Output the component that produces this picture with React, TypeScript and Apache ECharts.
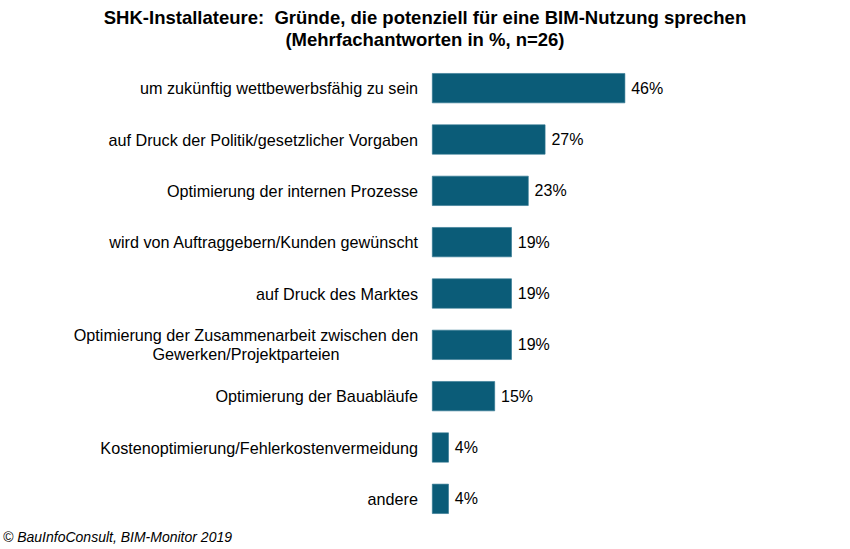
import React, { useEffect, useRef } from "react";
import * as echarts from "echarts";

const categories = [
  "um zukünftig wettbewerbsfähig zu sein",
  "auf Druck der Politik/gesetzlicher Vorgaben",
  "Optimierung der internen Prozesse",
  "wird von Auftraggebern/Kunden gewünscht",
  "auf Druck des Marktes",
  "Optimierung der Zusammenarbeit zwischen den\nGewerken/Projektparteien",
  "Optimierung der Bauabläufe",
  "Kostenoptimierung/Fehlerkostenvermeidung",
  "andere",
];
const values = [46, 27, 23, 19, 19, 19, 15, 4, 4];

const titleText = "SHK-Installateure:  Gründe, die potenziell für eine BIM-Nutzung sprechen\n(Mehrfachantworten in %, n=26)";
const footerText = "© BauInfoConsult, BIM-Monitor 2019";

const FONT = "'Liberation Sans', Arial, sans-serif";

export default function App() {
  const ref = useRef<HTMLDivElement>(null);
  useEffect(() => {
    if (!ref.current) return;
    const chart = echarts.init(ref.current, null, { renderer: "svg" });
    chart.setOption({
      animation: false,
      backgroundColor: "#ffffff",
      title: {
        text: titleText,
        left: 425,
        textAlign: "center",
        top: 6,
        padding: 0,
        textStyle: {
          fontFamily: FONT,
          fontSize: 18.5,
          fontWeight: "bold",
          color: "#000",
          lineHeight: 22,
        },
      },
      graphic: [
        {
          type: "text",
          left: 3,
          top: 530,
          style: {
            text: footerText,
            font: `italic 14px ${FONT}`,
            fill: "#000",
          },
        },
      ],
      grid: { left: 432, right: 208, top: 62.5, bottom: 24.5, containLabel: false },
      xAxis: {
        type: "value",
        min: 0,
        max: 50,
        show: false,
      },
      yAxis: {
        type: "category",
        data: categories,
        inverse: true,
        axisLine: { show: false },
        axisTick: { show: false },
        axisLabel: {
          margin: 14,
          fontFamily: FONT,
          fontSize: 16.2,
          color: "#000",
          lineHeight: 19,
          formatter: (v: string) => {
            if (v.includes("\n")) {
              return v
                .split("\n")
                .map((l) => `{c|${l}}`)
                .join("\n");
            }
            return v;
          },
          rich: {
            c: {
              width: 344,
              align: "center",
              fontFamily: FONT,
              fontSize: 16.2,
              color: "#000",
              lineHeight: 19,
            },
          },
        },
      },
      series: [
        {
          type: "bar",
          data: values,
          barWidth: 30,
          itemStyle: { color: "#0B5C78", borderColor: "#2f7590", borderWidth: 0.6 },
          label: {
            show: true,
            position: "right",
            distance: 6,
            formatter: "{c}%",
            fontFamily: FONT,
            fontSize: 16,
            color: "#000",
          },
        },
      ],
    });
    return () => chart.dispose();
  }, []);
  return (
    <div
      ref={ref}
      style={{ position: "absolute", left: 0, top: 0, width: 850, height: 549 }}
    />
  );
}
